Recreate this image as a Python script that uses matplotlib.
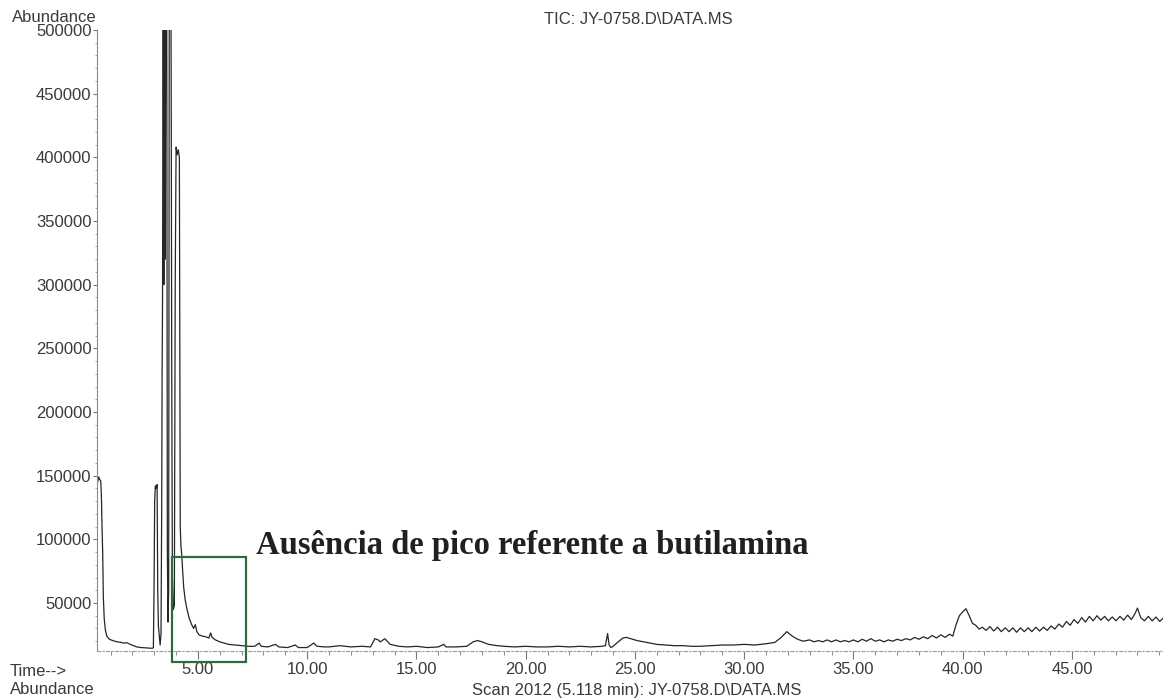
import matplotlib.pyplot as plt
from matplotlib.patches import Rectangle
from matplotlib.ticker import MultipleLocator, FormatStrFormatter

plt.rcParams['font.family'] = ['Liberation Sans', 'DejaVu Sans']

# TIC trace, in pieces (time in min, abundance)
front_t = [0.38, 0.42, 0.46, 0.50, 0.55, 0.58, 0.61, 0.64, 0.67, 0.71, 0.76,
           0.83, 0.95, 1.10, 1.30, 1.50, 1.60, 1.75, 1.90, 2.05, 2.20, 2.40,
           2.60, 2.80, 2.93]
front_a = [143000, 146000, 149000, 147000, 146000, 135000, 110000, 90000,
           55000, 38000, 29000, 24000, 21500, 20500, 19500, 19000, 18500,
           18800, 17500, 16500, 15500, 15000, 14800, 14500, 14500]

cluster_t = [2.96, 2.99, 3.02, 3.05, 3.10, 3.13, 3.16, 3.19, 3.23, 3.27, 3.31,
             3.34, 3.36, 3.38, 3.41, 3.44, 3.47, 3.50, 3.53, 3.57, 3.60, 3.63,
             3.66, 3.69, 3.73, 3.76, 3.78, 3.80, 3.83, 3.87, 3.92, 3.96, 4.00,
             4.05, 4.10, 4.15, 4.17, 4.19]
cluster_a = [15000, 60000, 130000, 142000, 140000, 143000, 60000, 32000,
             24000, 17000, 26000, 120000, 230000, 290000, 560000, 300000,
             560000, 320000, 560000, 560000, 90000, 35000, 60000, 560000,
             560000, 560000, 420000, 233000, 70000, 45000, 48000, 300000,
             408000, 402000, 406000, 400000, 250000, 110000]

decay_t = [4.22, 4.26, 4.30, 4.35, 4.42, 4.50, 4.60, 4.70, 4.80, 4.88, 4.95,
           5.05, 5.20, 5.35, 5.50, 5.58, 5.65, 5.80, 6.00, 6.20, 6.40, 6.70,
           7.00, 7.30, 7.60, 7.80, 7.90, 8.20, 8.55, 8.70, 9.10, 9.45, 9.60,
           10.0, 10.3, 10.45, 10.8]
decay_a = [95000, 88000, 75000, 62000, 52000, 45000, 38000, 33500, 30000,
           33000, 27500, 25000, 24000, 23500, 22500, 26500, 23000, 21000,
           19500, 18500, 17500, 17000, 16500, 16000, 16000, 18500, 16000,
           15500, 17500, 15500, 15000, 17000, 15000, 15000, 18500, 16000,
           15500]

mid_t = [11.0, 11.5, 12.0, 12.5, 12.9, 13.1, 13.25, 13.35, 13.55, 13.8, 14.2,
         14.6, 15.0, 15.5, 16.0, 16.25, 16.35, 16.8, 17.3, 17.6, 17.8, 18.0,
         18.3, 18.7, 19.0, 19.5, 20.0, 20.5, 21.0, 21.5, 22.0, 22.5, 23.0,
         23.5, 23.65, 23.75, 23.82, 23.9, 24.0, 24.2, 24.45, 24.6, 24.8, 25.1,
         25.4, 25.7, 26.0, 26.4, 26.8, 27.2, 27.6, 28.0, 28.5, 29.0, 29.5,
         30.0, 30.5, 31.0, 31.4, 31.7, 31.95, 32.2, 32.45, 32.7]
mid_a = [15500, 16500, 15500, 16000, 15500, 22000, 21000, 19500, 22000,
         17500, 16000, 15500, 16000, 15000, 15500, 17500, 15500, 15500,
         16000, 19500, 20500, 19500, 17500, 16500, 16000, 15500, 16000,
         15500, 15500, 16000, 15500, 16000, 15500, 16000, 16500, 26000,
         17000, 15000, 16000, 19000, 22500, 23000, 22000, 20500, 19500,
         18500, 17500, 17000, 16500, 16500, 16000, 16000, 16500, 17000,
         17000, 17500, 17000, 18000, 19000, 23000, 27500, 24000, 21500,
         20000]

late_t = [33.0, 33.2, 33.4, 33.6, 33.8, 34.0, 34.2, 34.4, 34.6, 34.8, 35.0,
          35.2, 35.4, 35.6, 35.8, 36.0, 36.2, 36.4, 36.6, 36.8, 37.0, 37.2,
          37.4, 37.6, 37.8, 38.0, 38.2, 38.4, 38.6, 38.8, 39.0, 39.2, 39.4,
          39.55, 39.7, 39.85, 40.0, 40.15, 40.3, 40.45, 40.6, 40.75]
late_a = [21000, 19500, 20500, 19500, 21000, 19500, 21000, 19500, 20500,
          19500, 21000, 19500, 21500, 20000, 22000, 20000, 21000, 19500,
          21000, 20000, 21500, 20500, 22000, 21000, 23000, 21500, 23500,
          22000, 24500, 22500, 25000, 23000, 25500, 24000, 33000, 40000,
          43000, 45500, 40000, 34000, 32500, 29500]

tail_t = [40.90, 41.07, 41.25, 41.42, 41.60, 41.77, 41.95, 42.12, 42.30,
          42.47, 42.65, 42.82, 43.00, 43.17, 43.35, 43.52, 43.70, 43.87,
          44.05, 44.22, 44.40, 44.57, 44.75, 44.92, 45.10, 45.27, 45.45,
          45.62, 45.80, 45.97, 46.15, 46.32, 46.50, 46.67, 46.85, 47.02,
          47.20, 47.37, 47.55, 47.72, 47.90, 48.00, 48.15, 48.32, 48.50,
          48.67, 48.85, 49.02, 49.20]
tail_a = [31000, 28500, 31500, 28000, 31000, 27500, 30500, 27500, 30500,
          27000, 30500, 27500, 30500, 27500, 31000, 28000, 31000, 28500,
          32000, 29500, 33500, 31000, 35500, 32500, 37000, 34000, 38500,
          35000, 39500, 36000, 40000, 36500, 39500, 36000, 39000, 36000,
          39500, 36500, 40500, 37000, 42000, 46000, 38500, 36000, 39500,
          36000, 39000, 35500, 38500]

time_min = front_t + cluster_t + decay_t + mid_t + late_t + tail_t
abundance = front_a + cluster_a + decay_a + mid_a + late_a + tail_a

box_t = (3.81, 7.20)
box_a = (3700, 86100)

fig = plt.figure(figsize=(11.63, 6.99), dpi=100)
ax = fig.add_axes([97 / 1163, 1 - 651 / 699, 1066 / 1163, 621 / 699])

ax.plot(time_min, abundance, color='#262626', lw=0.9)

ax.set_xlim(0.38, 49.17)
ax.set_ylim(12300, 500000)

ax.spines['top'].set_visible(False)
ax.spines['right'].set_visible(False)
ax.spines['left'].set_color('#8a8a8a')
ax.spines['bottom'].set_color('#9a9a9a')
ax.spines['bottom'].set_linestyle((0, (3, 2, 1, 2)))

ax.xaxis.set_major_locator(MultipleLocator(5))
ax.xaxis.set_minor_locator(MultipleLocator(1))
ax.xaxis.set_major_formatter(FormatStrFormatter('%.2f'))
ax.yaxis.set_major_locator(MultipleLocator(50000))
ax.yaxis.set_minor_locator(MultipleLocator(10000))

ax.tick_params(axis='x', which='major', length=6, width=0.8, color='#777777',
               labelsize=12, labelcolor='#3a3a3a', pad=2)
ax.tick_params(axis='x', which='minor', length=3, width=0.7, color='#888888')
ax.tick_params(axis='y', which='major', length=3, width=0.8, color='#777777',
               labelsize=12, labelcolor='#3a3a3a', pad=1)
ax.tick_params(axis='y', which='minor', length=1.5, width=0.6, color='#999999')

rect = Rectangle((box_t[0], box_a[0]), box_t[1] - box_t[0], box_a[1] - box_a[0],
                 fill=False, ec='#2f6b3c', lw=1.6, clip_on=False, zorder=5)
ax.add_patch(rect)

txt = dict(color='#3a3a3a', fontsize=12)
fig.text(12 / 1163, 1 - 18 / 699, 'Abundance', ha='left', va='center', **txt)
fig.text(638 / 1163, 1 - 20 / 699, 'TIC: JY-0758.D\\DATA.MS', ha='center',
         va='center', **txt)
fig.text(10 / 1163, 1 - 672 / 699, 'Time-->', ha='left', va='center', **txt)
fig.text(10 / 1163, 1 - 690 / 699, 'Abundance', ha='left', va='center', **txt)
fig.text(637 / 1163, 1 - 690 / 699, 'Scan 2012 (5.118 min): JY-0758.D\\DATA.MS',
         ha='center', va='center', **txt)

fig.text(256 / 1163, 1 - 554 / 699, 'Ausência de pico referente a butilamina',
         ha='left', va='baseline', fontsize=23.5, fontweight='bold',
         family=['Liberation Serif', 'DejaVu Serif'], color='#231f20')

fig.savefig('out.png', dpi=100)
